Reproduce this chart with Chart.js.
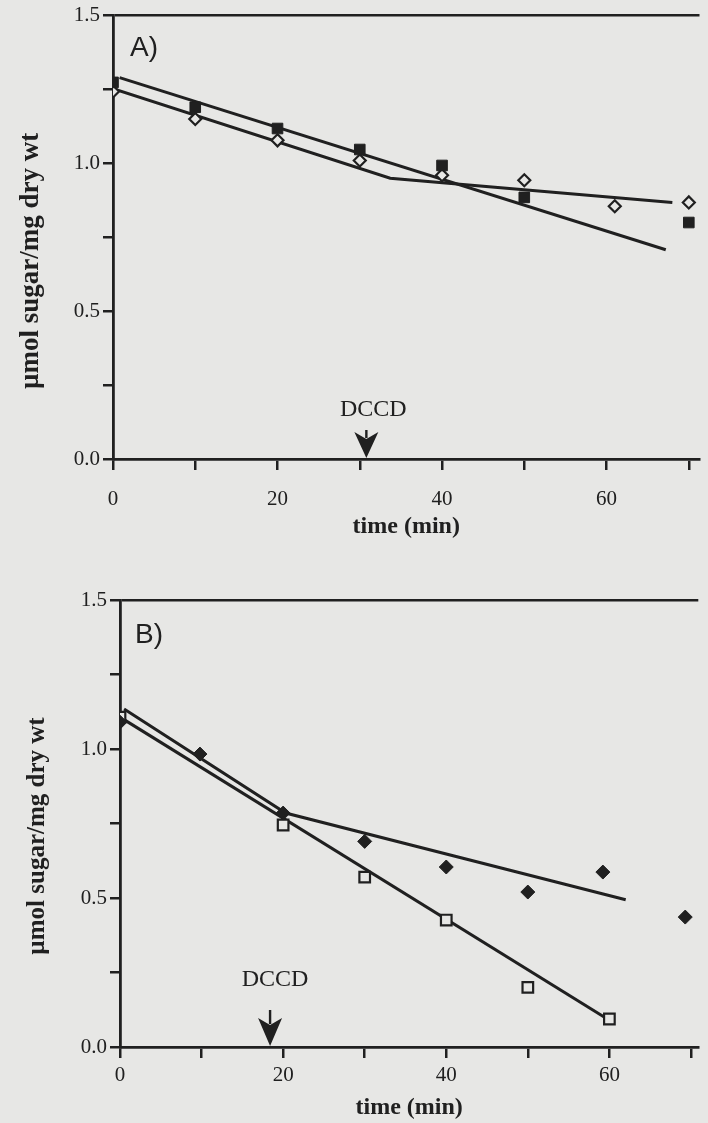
<!DOCTYPE html>
<html>
<head>
<meta charset="utf-8">
<script src="https://cdn.jsdelivr.net/npm/chart.js@4.4.1/dist/chart.umd.min.js"></script>
<style>
  body { margin: 0; background: #e7e7e5; }
  #wrap { position: relative; width: 708px; height: 1123px; overflow: hidden; }
  canvas { position: absolute; left: 0; }
</style>
</head>
<body>
<div id="wrap">
  <canvas id="chartA" width="708" height="560" style="top:0"></canvas>
  <canvas id="chartB" width="708" height="563" style="top:560px"></canvas>
</div>
<script>
var ink = '#202020';
var paper = '#e7e7e5';
var serif = '"Liberation Serif", "Times New Roman", serif';

// panel A
var timeSquaresA = [0, 10, 20, 30, 40, 50, 70];
var squaresA     = [1.274, 1.19, 1.118, 1.047, 0.993, 0.885, 0.80];
var timeDiamondsA = [0, 10, 20, 30, 40, 50, 61, 70];
var diamondsA     = [1.243, 1.15, 1.078, 1.01, 0.96, 0.943, 0.855, 0.868];
var fitTimeA1 = [0.8, 67.2];
var fitA1     = [1.29, 0.708];
var fitTimeA2 = [0, 33.7, 68];
var fitA2     = [1.253, 0.95, 0.868];
var dccdA = 30.8;

// panel B
var timeDiamondsB = [0, 9.8, 20, 30, 40, 50, 59.2, 69.3];
var diamondsB     = [1.09, 0.983, 0.785, 0.69, 0.604, 0.52, 0.587, 0.436];
var timeSquaresB = [0, 20, 30, 40, 50, 60];
var squaresB     = [1.107, 0.745, 0.57, 0.426, 0.20, 0.094];
var fitTimeB1 = [0.5, 20.3, 62];
var fitB1     = [1.134, 0.785, 0.494];
var fitTimeB2 = [0, 60];
var fitB2     = [1.107, 0.09];
var dccdB = 18.4;

// labelled ticks (the others are drawn as bare tick marks)
var yLabels = [0, 0.5, 1.0, 1.5];
var xLabels = [0, 20, 40, 60];

function pts(xs, ys) {
    return xs.map(function(x, i) { return {x: x, y: ys[i]}; });
}

function markers(xs, ys, style, filled, r) {
    return {
        data: pts(xs, ys),
        showLine: false,
        pointStyle: style,
        pointRadius: r,
        pointBackgroundColor: filled ? ink : paper,
        pointBorderColor: ink,
        pointBorderWidth: filled ? 1 : 2.2,
        order: 1
    };
}

function fitLine(xs, ys) {
    return {
        data: pts(xs, ys),
        showLine: true,
        borderColor: ink,
        borderWidth: 3,
        pointRadius: 0,
        tension: 0,
        fill: false,
        order: 2
    };
}

// panel letter, DCCD label and arrow
var notesPlugin = {
    id: 'notes',
    afterDatasetsDraw: function(chart, args, opts) {
        var ctx = chart.ctx, area = chart.chartArea;
        var x = chart.scales.x.getPixelForValue(opts.dccd);
        var y0 = chart.scales.y.getPixelForValue(0);
        ctx.save();
        ctx.fillStyle = ink;
        ctx.strokeStyle = ink;
        ctx.font = '28px "Liberation Sans", Arial, sans-serif';
        ctx.textAlign = 'left';
        ctx.textBaseline = 'alphabetic';
        ctx.fillText(opts.panel, area.left + opts.panelDx, area.top + opts.panelDy);

        ctx.font = '24px ' + serif;
        ctx.textAlign = 'center';
        ctx.textBaseline = 'middle';
        ctx.fillText('DCCD', x + opts.textDx, y0 - opts.textDy);

        var top = y0 - opts.headLen;
        ctx.lineWidth = 2.4;
        ctx.beginPath();
        ctx.moveTo(x, y0 - opts.shaft);
        ctx.lineTo(x, top + 6);
        ctx.stroke();
        ctx.beginPath();
        ctx.moveTo(x, y0 - 1);
        ctx.lineTo(x - 12, top);
        ctx.lineTo(x, top + 7);
        ctx.lineTo(x + 12, top);
        ctx.closePath();
        ctx.fill();
        ctx.restore();
    }
};

function makeChart(id, datasets, o) {
    return new Chart(document.getElementById(id), {
        type: 'scatter',
        data: { datasets: datasets },
        plugins: [notesPlugin],
        options: {
            responsive: false,
            animation: false,
            events: [],
            layout: { padding: { top: o.top, right: 0, bottom: 0, left: 0 } },
            plugins: {
                legend: { display: false },
                tooltip: { enabled: false },
                notes: o.notes
            },
            scales: {
                x: {
                    type: 'linear',
                    min: 0,
                    max: o.xMax,
                    afterFit: function(s) { s.height = o.xHeight; },
                    border: { color: ink, width: 2.8 },
                    grid: { drawOnChartArea: false, tickLength: 11, tickColor: ink, lineWidth: 2.5 },
                    ticks: {
                        stepSize: 10,
                        includeBounds: false,
                        autoSkip: false,
                        maxRotation: 0,
                        padding: o.xTickPad,
                        color: ink,
                        font: { family: serif, size: 21 },
                        callback: function(v) { return xLabels.indexOf(v) >= 0 ? String(v) : ''; }
                    },
                    title: {
                        display: true,
                        text: 'time (min)',
                        color: ink,
                        font: { family: serif, size: 24, weight: 'bold' },
                        padding: { top: 0, bottom: o.xTitlePad }
                    }
                },
                y: {
                    min: 0,
                    max: 1.5,
                    afterFit: function(s) { s.width = o.yWidth; },
                    border: { color: ink, width: 2.8 },
                    grid: {
                        color: function(c) { return c.tick && c.tick.value === 1.5 ? ink : 'rgba(0,0,0,0)'; },
                        tickColor: ink,
                        tickLength: 10,
                        lineWidth: 2.5
                    },
                    ticks: {
                        stepSize: 0.25,
                        padding: 3,
                        color: ink,
                        font: { family: serif, size: 21 },
                        callback: function(v) { return yLabels.indexOf(v) >= 0 ? v.toFixed(1) : ''; }
                    },
                    title: {
                        display: true,
                        text: 'µmol sugar/mg dry wt' + o.yTitleTail,
                        color: ink,
                        font: { family: serif, size: o.yTitleSize, weight: 'bold' },
                        padding: { top: o.yTitlePad, bottom: 0 }
                    }
                }
            }
        }
    });
}

makeChart('chartA', [
    markers(timeSquaresA, squaresA, 'rect', true, 7.5),
    markers(timeDiamondsA, diamondsA, 'rectRot', false, 6),
    fitLine(fitTimeA1, fitA1),
    fitLine(fitTimeA2, fitA2)
], {
    top: 15, xMax: 71.3, xHeight: 101, yWidth: 113,
    xTickPad: 17, xTitlePad: 19,
    yTitleSize: 27, yTitlePad: 15, yTitleTail: '\u00a0\u00a0\u00a0\u00a0\u00a0\u00a0\u00a0',
    notes: { panel: 'A)', panelDx: 17, panelDy: 40, dccd: dccdA, textDx: 7, textDy: 49, headLen: 27, shaft: 29 }
});

makeChart('chartB', [
    markers(timeDiamondsB, diamondsB, 'rectRot', true, 7),
    markers(timeSquaresB, squaresB, 'rect', false, 7.5),
    fitLine(fitTimeB1, fitB1),
    fitLine(fitTimeB2, fitB2)
], {
    top: 40, xMax: 70.9, xHeight: 76, yWidth: 120,
    xTickPad: 5, xTitlePad: 1,
    yTitleSize: 25, yTitlePad: 23, yTitleTail: '\u00a0\u00a0\u00a0\u00a0',
    notes: { panel: 'B)', panelDx: 15, panelDy: 43, dccd: dccdB, textDx: 5, textDy: 67, headLen: 29, shaft: 37 }
});
</script>
</body>
</html>
